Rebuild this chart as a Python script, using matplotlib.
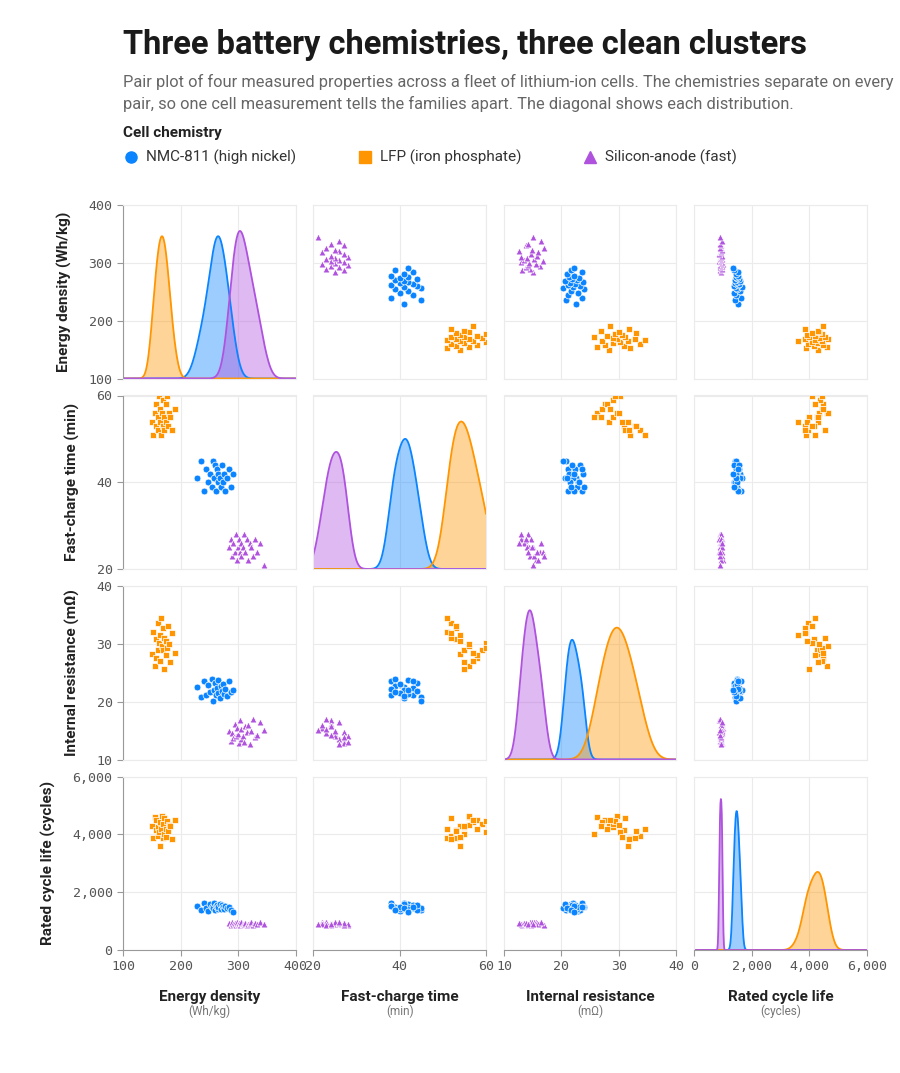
import numpy as np
import matplotlib
matplotlib.use("Agg")
import matplotlib.pyplot as plt
from matplotlib.ticker import FuncFormatter

plt.rcParams['font.family'] = ['Roboto', 'DejaVu Sans']

groups = ["NMC-811 (high nickel)", "LFP (iron phosphate)", "Silicon-anode (fast)"]
colors = ["#0a84ff", "#ff9500", "#af52de"]
markers = ["o", "s", "^"]

vars_ = ["Energy density", "Fast-charge time", "Internal resistance", "Rated cycle life"]
units = ["(Wh/kg)", "(min)", "(mΩ)", "(cycles)"]
ylabels = ["Energy density (Wh/kg)", "Fast-charge time (min)", "Internal resistance (mΩ)", "Rated cycle life (cycles)"]
lims = [(100, 400), (20, 60), (10, 40), (0, 6000)]
ticks = [[100, 200, 300, 400], [20, 40, 60], [10, 20, 30, 40], [0, 2000, 4000, 6000]]

nmc_energy = [228, 236, 240, 245, 248, 252, 255, 257, 259, 260, 262, 263, 265, 266, 268, 270, 272, 274, 276, 278, 281, 284, 288, 291]
nmc_charge = [41, 45, 38, 43, 40, 42, 39, 45, 41, 44, 38, 43, 40, 42, 41, 39, 44, 40, 42, 38, 41, 43, 39, 42]
nmc_resist = [22.5, 20.8, 23.6, 21.2, 22.9, 21.7, 24.0, 20.2, 22.0, 23.3, 21.1, 22.4, 21.5, 23.8, 20.6, 22.7, 21.9, 23.0, 21.3, 22.2, 20.9, 23.5, 21.6, 22.1]
nmc_cycles = [1530, 1400, 1620, 1450, 1360, 1580, 1490, 1440, 1640, 1380, 1510, 1560, 1420, 1470, 1590, 1410, 1550, 1480, 1430, 1520, 1460, 1500, 1370, 1330]

lfp_energy = [150, 152, 155, 157, 158, 160, 161, 163, 164, 165, 166, 168, 169, 170, 171, 172, 174, 175, 177, 178, 180, 182, 185, 191]
lfp_charge = [54, 51, 56, 53, 58, 52, 55, 60, 54, 57, 51, 56, 53, 59, 55, 52, 58, 54, 60, 53, 56, 55, 52, 57]
lfp_resist = [28.3, 32.0, 26.2, 30.8, 27.6, 33.6, 29.0, 30.2, 31.5, 27.0, 34.5, 29.6, 32.8, 28.9, 25.7, 31.0, 28.0, 30.5, 29.3, 33.0, 30.0, 26.8, 31.8, 28.5]
lfp_cycles = [4300, 3880, 4600, 4150, 4480, 3950, 4250, 4070, 3590, 4420, 4200, 4650, 3860, 4350, 4000, 4550, 4180, 3900, 4450, 4100, 4330, 4300, 3840, 4480]

si_energy = [285, 288, 290, 292, 294, 296, 298, 300, 301, 303, 305, 306, 308, 310, 312, 315, 318, 320, 323, 326, 330, 333, 338, 345]
si_charge = [25, 27, 23, 26, 24, 28, 22, 25, 27, 24, 26, 23, 25, 28, 24, 27, 22, 26, 25, 23, 27, 24, 26, 21]
si_resist = [15.0, 13.2, 14.6, 13.8, 16.2, 14.1, 15.5, 14.4, 12.9, 16.8, 13.5, 15.2, 14.0, 13.0, 15.8, 14.7, 16.0, 12.6, 14.9, 17.0, 13.9, 14.2, 16.4, 15.1]
si_cycles = [920, 880, 960, 900, 940, 870, 980, 910, 950, 850, 930, 970, 890, 905, 945, 860, 915, 935, 965, 875, 925, 895, 955, 885]

# visual peak height of each diagonal curve, as a fraction of its panel
kde_peaks = [[0.82, 0.82, 0.85], [0.75, 0.85, 0.675], [0.69, 0.76, 0.86], [0.80, 0.45, 0.87]]

data = [
    [nmc_energy, nmc_charge, nmc_resist, nmc_cycles],
    [lfp_energy, lfp_charge, lfp_resist, lfp_cycles],
    [si_energy, si_charge, si_resist, si_cycles],
]
data = [[np.array(v, float) for v in g] for g in data]

fig = plt.figure(figsize=(9, 10.73), dpi=100)
L, R, T, B = 123/900, 867/900, 1-205/1073, 1-950/1073
gx, gy = 18/900, 17/1073
w = (R - L - 3*gx)/4
h = (T - B - 3*gy)/4

def fmt(v, p):
    return f"{int(v):,}"

grid_c = "#ebebeb"
for i in range(4):
    for j in range(4):
        ax = fig.add_axes([L + j*(w+gx), T - (i+1)*h - i*gy, w, h])
        ax.set_xlim(lims[j])
        ax.set_xticks(ticks[j])
        for s in ax.spines.values():
            s.set_color(grid_c)
        ax.grid(True, color=grid_c, lw=0.8)
        ax.set_axisbelow(True)
        ax.tick_params(colors="#999999", labelcolor="#555555", length=4, width=0.8,
                       labelsize=9.5)
        if i == j:
            xs = np.linspace(*lims[j], 400)
            y0, y1 = lims[i]
            for g in range(3):
                d = data[g][j]
                bw = 1.25*d.std()*len(d)**(-0.2)
                k = np.exp(-0.5*((xs[:, None]-d[None, :])/bw)**2).sum(1)
                yy = y0 + k/k.max()*(y1-y0)*kde_peaks[j][g]
                ax.fill_between(xs, y0, yy, color=colors[g], alpha=0.4, lw=0)
                ax.plot(xs, yy, color=colors[g], lw=1.3)
        else:
            for g in range(3):
                ax.scatter(data[g][j], data[g][i], s=24, marker=markers[g], c=colors[g],
                           edgecolors="white", linewidths=0.5, zorder=3)
        ax.set_ylim(lims[i])
        ax.set_yticks(ticks[i])
        ax.xaxis.set_major_formatter(FuncFormatter(fmt))
        ax.yaxis.set_major_formatter(FuncFormatter(fmt))
        for lab in ax.get_xticklabels() + ax.get_yticklabels():
            lab.set_family("DejaVu Sans Mono")
        if j == 0:
            ax.set_ylabel(ylabels[i], fontsize=11, fontweight="bold", labelpad=12, color="#222222")
            ax.spines['left'].set_color("#999999")
        else:
            ax.tick_params(axis='y', left=False, labelleft=False)
        if i == 3:
            ax.spines['bottom'].set_color("#999999")
            ax.set_xlabel(vars_[j], fontsize=11, fontweight="bold", labelpad=12, color="#222222")
            cx = L + j*(w+gx) + w/2
            fig.text(cx, 1-1011/1073, units[j], ha="center", va="center", fontsize=8.5, color="#777777")
        else:
            ax.tick_params(axis='x', bottom=False, labelbottom=False)

fig.text(123/900, 1-45/1073, "Three battery chemistries, three clean clusters", fontsize=23.5,
         fontweight="bold", va="center", color="#1a1a1a")
fig.text(123/900, 1-93/1073,
         "Pair plot of four measured properties across a fleet of lithium-ion cells. The chemistries separate on every\n"
         "pair, so one cell measurement tells the families apart. The diagonal shows each distribution.",
         fontsize=11.8, color="#666666", va="center", linespacing=1.45)
fig.text(123/900, 1-133/1073, "Cell chemistry", fontsize=11, fontweight="bold", va="center", color="#222222")
lx = [131, 365, 590]
for g in range(3):
    fig.lines.append(plt.Line2D([lx[g]/900], [1-157/1073], marker=markers[g], color=colors[g],
                                markersize=8, transform=fig.transFigure, ls=""))
    fig.text((lx[g]+15)/900, 1-157/1073, groups[g], fontsize=11, va="center", color="#333333")

fig.savefig("out.png", dpi=100, facecolor="white")
